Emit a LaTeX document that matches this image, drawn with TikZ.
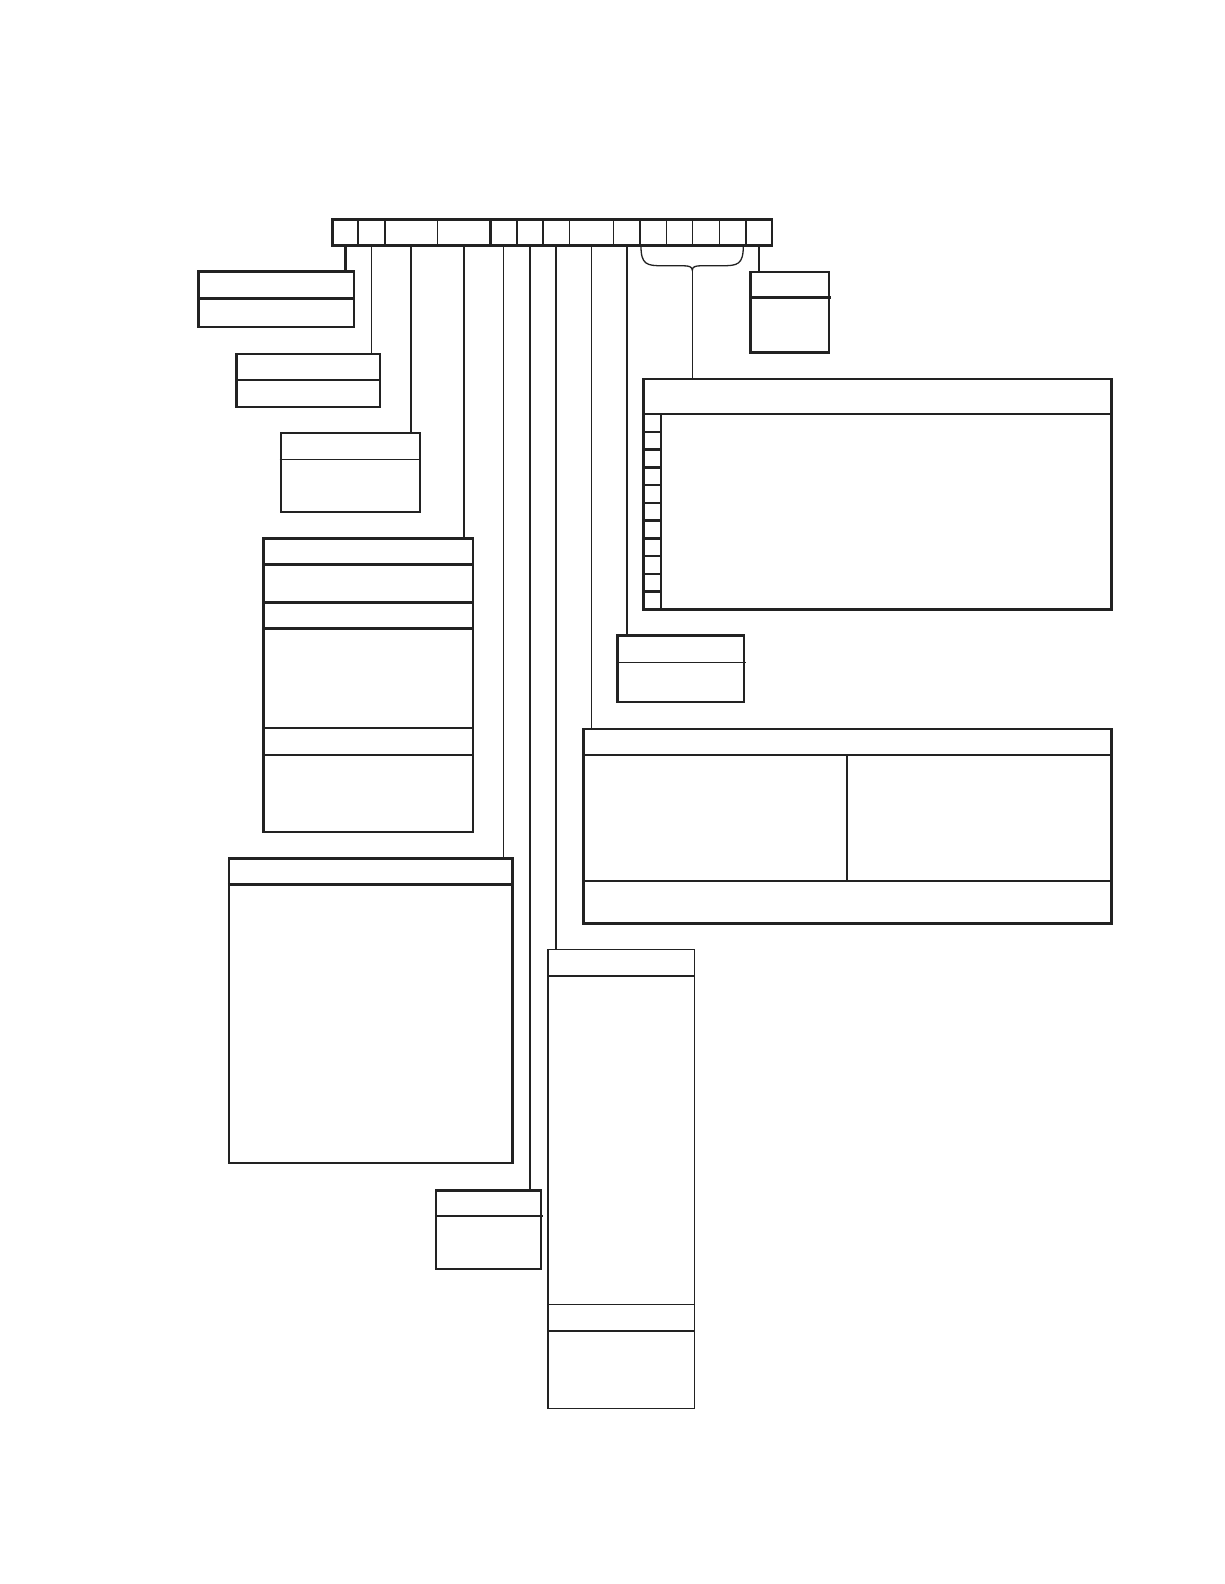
\documentclass[tikz,border=0pt]{standalone}
\usetikzlibrary{fit}
\definecolor{ink}{HTML}{222222}
\begin{document}
\begin{tikzpicture}[x=1pt,y=-1pt,
  thk/.style={line width=2.5pt,draw=ink},
  thn/.style={line width=1.3pt,draw=ink},
  box/.style={draw=ink,line width=2.5pt,inner sep=0pt,rectangle},
  tbox/.style={draw=ink,line width=1.4pt,inner sep=0pt,rectangle}]
\useasboundingbox[fill=white] (0,0) rectangle (1224,1584);
\begin{scope}[scale=1.0105]
% top bar
\node[box,fit={(329,217) (764,243)}] (bar) {};
\foreach \x in {354.4,381.1,485.2,511.6,537.3,633.5,764}
  \draw[thk] (\x,217) -- (\x,243);
\foreach \x in {433.1,563.6,607.1,659.9,685.6,711.9,738.3}
  \draw[thn] (\x,217) -- (\x,243);
% boxes
\node[box,fit={(196.6,268.8) (350.3,323.3)}] (b1) {};
\draw[thk] (b1.west |- 0,295.2) -- (b1.east |- 0,295.2);
\node[box,fit={(234.2,350) (376.1,402.5)}] (b2) {};
\draw[thk] (b2.west |- 0,376.1) -- (b2.east |- 0,376.1);
\node[box,fit={(277.8,428.5) (415.6,506.4)}] (b3) {};
\draw[thn] (b3.west |- 0,454.9) -- (b3.east |- 0,454.9);
\node[box,fit={(260.9,532.7) (468.1,823.4)}] (b4) {};
\foreach \y in {558.8,596.4,621.8,720.4,747.2}
  \draw[thk] (b4.west |- 0,\y) -- (b4.east |- 0,\y);
\node[box,fit={(226.6,849.4) (507,1150.9)}] (b5) {};
\draw[thk] (b5.west |- 0,875.5) -- (b5.east |- 0,875.5);
\node[box,fit={(742.5,269.2) (820.4,348.7)}] (b6) {};
\draw[thk] (b6.west |- 0,294.6) -- (b6.east |- 0,294.6);
\node[box,fit={(636.6,375.1) (1099.5,603)}] (b7) {};
\draw[thn] (b7.west |- 0,409.7) -- (b7.east |- 0,409.7);
\draw[thk] (654.1,409.7) -- (654.1,603);
\foreach \k in {1,...,10}
  \draw[thk] (636.6,409.7+17.57*\k) -- (654.1,409.7+17.57*\k);
\node[box,fit={(610.9,628.7) (736.3,694.4)}] (b8) {};
\draw[thn] (b8.west |- 0,655.5) -- (b8.east |- 0,655.5);
\node[box,fit={(577,721.2) (1099.5,913.5)}] (b9) {};
\draw[thk] (b9.west |- 0,747) -- (b9.east |- 0,747);
\draw[thk] (b9.west |- 0,872) -- (b9.east |- 0,872);
\draw[thk] (838,747) -- (838,872);
\node[box,fit={(431.5,1177.6) (535.4,1255.5)}] (b10) {};
\draw[thk] (b10.west |- 0,1203.4) -- (b10.east |- 0,1203.4);
\node[tbox,fit={(542,939.1) (687.1,1393.7)}] (b11) {};
\draw[thk] (b11.west |- 0,965.9) -- (b11.east |- 0,965.9);
\draw[thn] (b11.west |- 0,1290.8) -- (b11.east |- 0,1290.8);
\draw[thk] (b11.west |- 0,1317.2) -- (b11.east |- 0,1317.2);
% connector origins on bar
\coordinate (c1) at (341.6,243);
\coordinate (c2) at (367.6,243);
\coordinate (c3) at (406.6,243);
\coordinate (c4) at (459.2,243);
\coordinate (c5) at (498.4,243);
\coordinate (c10) at (524.5,243);
\coordinate (c11) at (549.9,243);
\coordinate (c9) at (585.3,243);
\coordinate (c8) at (620.1,243);
\coordinate (c6) at (751.1,243);
\coordinate (br) at (685,267.5);
\draw[thk] (c1) -- (c1 |- b1.north);
\draw[thn] (c2) -- (c2 |- b2.north);
\draw[thk] (c3) -- (c3 |- b3.north);
\draw[thk] (c4) -- (c4 |- b4.north);
\draw[thn] (c5) -- (c5 |- b5.north);
\draw[thk] (c10) -- (c10 |- b10.north);
\draw[thk] (c11) -- (c11 |- b11.north);
\draw[thn] (c9) -- (c9 |- b9.north);
\draw[thk] (c8) -- (c8 |- b8.north);
\draw[thk] (c6) -- (c6 |- b6.north);
% brace
\draw[thn] (634.3,243) .. controls (634.3,262) and (640,263) .. (656,263)
  -- (676,263) .. controls (682,263) and (685,264) .. (br)
  .. controls (685,264) and (688,263) .. (694,263)
  -- (714,263) .. controls (730,263) and (735.6,262) .. (735.6,243);
\draw[thn] (br) -- (br |- b7.north);
\end{scope}
\end{tikzpicture}
\end{document}
